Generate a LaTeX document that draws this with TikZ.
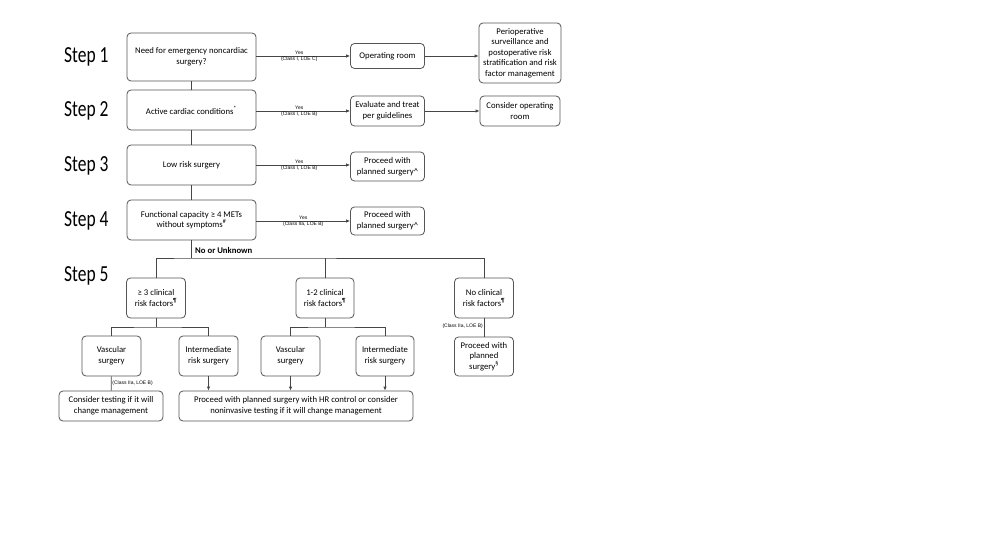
\documentclass[tikz,border=0pt]{standalone}
\usepackage{fontspec}
\setmainfont{Carlito}
\newfontfamily\tinyarial{Liberation Sans}
\usetikzlibrary{arrows.meta,positioning}
\definecolor{boxline}{RGB}{85,85,85}
\definecolor{wireline}{RGB}{70,70,70}
\newcommand{\steptext}[1]{\scalebox{0.76}[1]{#1}}

\begin{document}
\begin{tikzpicture}[x=1pt,y=-1pt,
        stepbox/.style={rectangle,rounded corners=4pt,draw=boxline,fill=white,line width=0.8pt,
          inner sep=1pt,align=center,font=\fontsize{8.7}{10.6}\selectfont},
        steplabel/.style={font=\fontsize{23}{25}\selectfont,anchor=west,inner sep=0pt},
        wire/.style={draw=wireline,line width=0.8pt},
        arrow/.style={wire,-{Latex[length=4pt,width=3.5pt]}},
        yes/.style={font=\tinyarial\fontsize{5}{6}\selectfont,inner sep=0.8pt}]
        \useasboundingbox (0,0) rectangle (999,556);
        \node[steplabel] (s1) at (64,57) {\steptext{Step 1}};
        \node[steplabel] (s2) at (64,111) {\steptext{Step 2}};
        \node[steplabel] (s3) at (64,166) {\steptext{Step 3}};
        \node[steplabel] (s4) at (64,221) {\steptext{Step 4}};
        \node[steplabel] (s5) at (64,276) {\steptext{Step 5}};
        \node[stepbox,minimum width=129pt,minimum height=48pt] (q1) at (191.5,57) {Need for emergency noncardiac\\surgery?};
        \node[stepbox,minimum width=129pt,minimum height=40pt] (q2) at (191.5,110) {Active cardiac conditions\textsuperscript{*}};
        \node[stepbox,minimum width=129pt,minimum height=40pt] (q3) at (191.5,165) {Low risk surgery};
        \node[stepbox,minimum width=129pt,minimum height=40pt] (q4) at (191.5,220) {Functional capacity ≥ 4 METs\\without symptoms\textsuperscript{\#}};
        \node[stepbox,minimum width=74pt,minimum height=25pt] (oproom) at (387.5,56) {Operating room};
        \node[stepbox,minimum width=82pt,minimum height=60pt] (periop) at (520,53) {Perioperative\\surveillance and\\postoperative risk\\stratification and risk\\factor management};
        \node[stepbox,minimum width=74pt,minimum height=30pt] (evaltreat) at (387.5,111) {Evaluate and treat\\per guidelines};
        \node[stepbox,minimum width=80pt,minimum height=30pt] (considerop) at (520,111) {Consider operating\\room};
        \node[stepbox,minimum width=74pt,minimum height=29pt] (proc3) at (387.5,166.5) {Proceed with\\planned surgery\textasciicircum};
        \node[stepbox,minimum width=74pt,minimum height=28pt] (proc4) at (387.5,221) {Proceed with\\planned surgery\textasciicircum};
        \node[stepbox,minimum width=59pt,minimum height=40pt] (rfmany) at (156,298) {≥ 3 clinical\\risk factors\textsuperscript{¶}};
        \node[stepbox,minimum width=58pt,minimum height=40pt] (rffew) at (325,298) {1-2 clinical\\risk factors\textsuperscript{¶}};
        \node[stepbox,minimum width=59pt,minimum height=40pt] (rfnone) at (484,298) {No clinical\\risk factors\textsuperscript{¶}};
        \node[stepbox,minimum width=59pt,minimum height=40pt] (vascA) at (111.5,356) {Vascular\\surgery};
        \node[stepbox,minimum width=59pt,minimum height=40pt] (interA) at (208.5,356) {Intermediate\\risk surgery};
        \node[stepbox,minimum width=59pt,minimum height=40pt] (vascB) at (290.5,356) {Vascular\\surgery};
        \node[stepbox,minimum width=58pt,minimum height=40pt] (interB) at (385,356) {Intermediate\\risk surgery};
        \node[stepbox,minimum width=59pt,minimum height=39pt] (proc5) at (484,356.5) {Proceed with\\planned\\surgery\textsuperscript{§}};
        \node[stepbox,minimum width=104pt,minimum height=30pt] (testing) at (111,406) {Consider testing if it will\\change management};
        \node[stepbox,minimum width=234pt,minimum height=30pt] (hrcontrol) at (296,406) {Proceed with planned surgery with HR control or consider\\noninvasive testing if it will change management};
        \coordinate (fork) at (191.5,258);
        \coordinate (forkA) at (156,327);
        \coordinate (forkB) at (325,327);
        \draw[wire] (q1) -- (q2);
        \draw[wire] (q2) -- (q3);
        \draw[wire] (q3) -- (q4);
        \draw[wire] (q4) -- (fork);
        \draw[wire] (rfmany.north) |- (fork) -| (rfnone.north);
        \draw[wire] (fork -| rffew) -- (rffew.north);
        \node[font=\bfseries\fontsize{8.7}{10}\selectfont,anchor=west,inner sep=0pt] (nounk) at (195,250) {No or Unknown};
        \draw[wire] (rfmany.south) -- (forkA);
        \draw[wire] (vascA.north) |- (forkA) -| (interA.north);
        \draw[wire] (rffew.south) -- (forkB);
        \draw[wire] (vascB.north) |- (forkB) -| (interB.north);
        \draw[wire] (rfnone) -- node[yes,left,pos=0.45] {(Class IIa, LOE B)} (proc5);
        \draw[wire] (vascA) -- node[yes,right,pos=0.45] {(Class IIa, LOE B)} (testing);
        \draw[arrow] (interA) -- (interA |- hrcontrol.north);
        \draw[arrow] (vascB) -- (vascB |- hrcontrol.north);
        \draw[arrow] (interB) -- (interB |- hrcontrol.north);
        \draw[arrow] (q1.east |- oproom) -- node[yes,above,xshift=-4pt] {Yes} node[yes,below,xshift=-4pt] {(Class I, LOE C)} (oproom.west);
        \draw[arrow] (oproom.east) -- (oproom.east -| periop.west);
        \draw[arrow] (q2.east |- evaltreat) -- node[yes,above,xshift=-4pt] {Yes} node[yes,below,xshift=-4pt] {(Class I, LOE B)} (evaltreat.west);
        \draw[arrow] (evaltreat.east) -- (considerop.west);
        \draw[arrow] (q3.east) -- node[yes,above,xshift=-4pt] {Yes} node[yes,below,xshift=-4pt] {(Class I, LOE B)} (q3.east -| proc3.west);
        \draw[arrow] (q4.east |- proc4) -- node[yes,above] {Yes} node[yes,below] {(Class IIa, LOE B)} (proc4.west);
      \end{tikzpicture}
\end{document}
